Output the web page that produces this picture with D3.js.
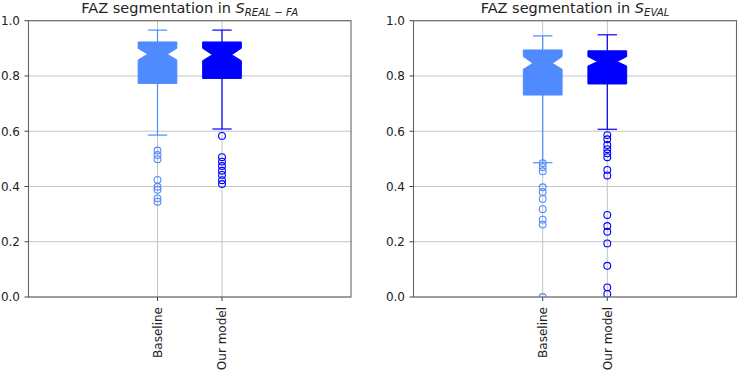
<!DOCTYPE html>
<html>
<head>
<meta charset="utf-8">
<script src="https://cdn.jsdelivr.net/npm/d3@7"></script>
<style>
  body { margin: 0; background: #fff; }
  svg text { font-family: "DejaVu Sans", sans-serif; fill: #222; }
</style>
</head>
<body>
<div id="chart"></div>
<script>
// categories + tick labels
var categories = ["Baseline", "Our model"];
var yTicks = [0.0, 0.2, 0.4, 0.6, 0.8, 1.0];
var panelSubscripts = ["REAL \u2212 FA", "EVAL"];

// S_REAL-FA panel, one value per category
var realFaWhiskerLow = [0.586, 0.608];
var realFaQ1 = [0.773, 0.791];
var realFaNotchLow = [0.858, 0.855];
var realFaMedian = [0.879, 0.877];
var realFaNotchHigh = [0.900, 0.900];
var realFaQ3 = [0.923, 0.923];
var realFaWhiskerHigh = [0.966, 0.966];
var realFaFliers = [
  [0.530, 0.514, 0.499, 0.424, 0.399, 0.388, 0.357, 0.345],
  [0.583, 0.506, 0.490, 0.474, 0.457, 0.442, 0.423, 0.409]
];

// S_EVAL panel
var evalWhiskerLow = [0.486, 0.607];
var evalQ1 = [0.731, 0.771];
var evalNotchLow = [0.824, 0.836];
var evalMedian = [0.846, 0.852];
var evalNotchHigh = [0.870, 0.870];
var evalQ3 = [0.894, 0.891];
var evalWhiskerHigh = [0.945, 0.949];
var evalFliers = [
  [0.484, 0.470, 0.455, 0.397, 0.380, 0.355, 0.318, 0.280, 0.262, 0.0],
  [0.586, 0.571, 0.550, 0.535, 0.520, 0.506, 0.460, 0.440, 0.297, 0.257, 0.236, 0.194, 0.113, 0.035, 0.011]
];

var colors = ["#4f8bff", "#0000ff"];

function boxPanel(svg, opts) {
  var x = d3.scaleLinear().domain([-1, 4]).range([opts.x0, opts.x1]);
  var y = d3.scaleLinear().domain([0, 1]).range([297, 20.7]);
  var g = svg.append("g");
  var boxW = 0.6, capW = 0.3;

  // grid
  g.append("g").selectAll("line").data(yTicks).enter().append("line")
    .attr("x1", opts.x0).attr("x2", opts.x1)
    .attr("y1", function(d) { return y(d); }).attr("y2", function(d) { return y(d); })
    .attr("stroke", "#c4c4c4").attr("stroke-width", 1);
  g.append("g").selectAll("line").data(categories).enter().append("line")
    .attr("x1", function(d, i) { return x(i + 1); }).attr("x2", function(d, i) { return x(i + 1); })
    .attr("y1", y(0)).attr("y2", y(1))
    .attr("stroke", "#c4c4c4").attr("stroke-width", 1);

  var clipId = "clip" + opts.id;
  svg.append("clipPath").attr("id", clipId).append("rect")
    .attr("x", opts.x0).attr("y", y(1)).attr("width", opts.x1 - opts.x0).attr("height", y(0) - y(1));

  categories.forEach(function(c, i) {
    var p = i + 1, col = colors[i];
    var l = x(p - boxW / 2), r = x(p + boxW / 2);
    var nl = x(p - boxW / 4), nr = x(p + boxW / 4);
    // notched box outline, like matplotlib's
    var pts = [[l, y(opts.q1[i])], [r, y(opts.q1[i])], [r, y(opts.notchLow[i])], [nr, y(opts.median[i])],
      [r, y(opts.notchHigh[i])], [r, y(opts.q3[i])], [l, y(opts.q3[i])], [l, y(opts.notchHigh[i])],
      [nl, y(opts.median[i])], [l, y(opts.notchLow[i])]];

    // whiskers
    g.append("line").attr("x1", x(p)).attr("x2", x(p))
      .attr("y1", y(opts.q1[i])).attr("y2", y(opts.wLow[i]))
      .attr("stroke", col).attr("stroke-width", 1.2);
    g.append("line").attr("x1", x(p)).attr("x2", x(p))
      .attr("y1", y(opts.q3[i])).attr("y2", y(opts.wHigh[i]))
      .attr("stroke", col).attr("stroke-width", 1.2);
    [opts.wLow[i], opts.wHigh[i]].forEach(function(v) {
      g.append("line").attr("x1", x(p - capW / 2)).attr("x2", x(p + capW / 2))
        .attr("y1", y(v)).attr("y2", y(v))
        .attr("stroke", col).attr("stroke-width", 1.2);
    });

    g.append("path").attr("d", "M" + pts.join("L") + "Z")
      .attr("fill", col).attr("stroke", col).attr("stroke-width", 1);

    g.append("g").attr("clip-path", "url(#" + clipId + ")")
      .selectAll("circle").data(opts.fliers[i]).enter().append("circle")
      .attr("cx", x(p)).attr("cy", function(d) { return y(d); })
      .attr("r", 3.4).attr("fill", "none").attr("stroke", col).attr("stroke-width", 1.1);
  });

  // spines
  g.append("rect").attr("x", opts.x0).attr("y", y(1))
    .attr("width", opts.x1 - opts.x0).attr("height", y(0) - y(1))
    .attr("fill", "none").attr("stroke", "#666").attr("stroke-width", 1.1);

  // y axis ticks
  yTicks.forEach(function(t) {
    g.append("line").attr("x1", opts.x0 - 4).attr("x2", opts.x0)
      .attr("y1", y(t)).attr("y2", y(t)).attr("stroke", "#444");
    g.append("text").attr("x", opts.x0 - 8.5).attr("y", y(t)).attr("dy", "0.36em")
      .attr("text-anchor", "end").style("font-size", "12px").text(d3.format(".1f")(t));
  });

  // x axis ticks, rotated labels
  categories.forEach(function(c, i) {
    var px = x(i + 1);
    g.append("line").attr("x1", px).attr("x2", px).attr("y1", y(0)).attr("y2", y(0) + 4).attr("stroke", "#444");
    g.append("text").attr("transform", "translate(" + (px + 4.3) + "," + (y(0) + 10) + ") rotate(-90)")
      .attr("text-anchor", "end").style("font-size", "12px").text(c);
  });

  // title with math subscript
  var t = g.append("text").attr("x", (opts.x0 + opts.x1) / 2).attr("y", 13.3)
    .attr("text-anchor", "middle").style("font-size", "14.5px");
  t.append("tspan").text("FAZ segmentation in ");
  t.append("tspan").style("font-style", "italic").text("S");
  t.append("tspan").attr("dy", 2.2).style("font-style", "italic").style("font-size", "10.2px").text(opts.sub);
}

var svg = d3.select("#chart").append("svg").attr("width", 738).attr("height", 374);

boxPanel(svg, {
  id: 0, x0: 28.5, x1: 351, sub: panelSubscripts[0],
  wLow: realFaWhiskerLow, q1: realFaQ1, notchLow: realFaNotchLow, median: realFaMedian,
  notchHigh: realFaNotchHigh, q3: realFaQ3, wHigh: realFaWhiskerHigh, fliers: realFaFliers
});
boxPanel(svg, {
  id: 1, x0: 413.5, x1: 736.5, sub: panelSubscripts[1],
  wLow: evalWhiskerLow, q1: evalQ1, notchLow: evalNotchLow, median: evalMedian,
  notchHigh: evalNotchHigh, q3: evalQ3, wHigh: evalWhiskerHigh, fliers: evalFliers
});
</script>
</body>
</html>
